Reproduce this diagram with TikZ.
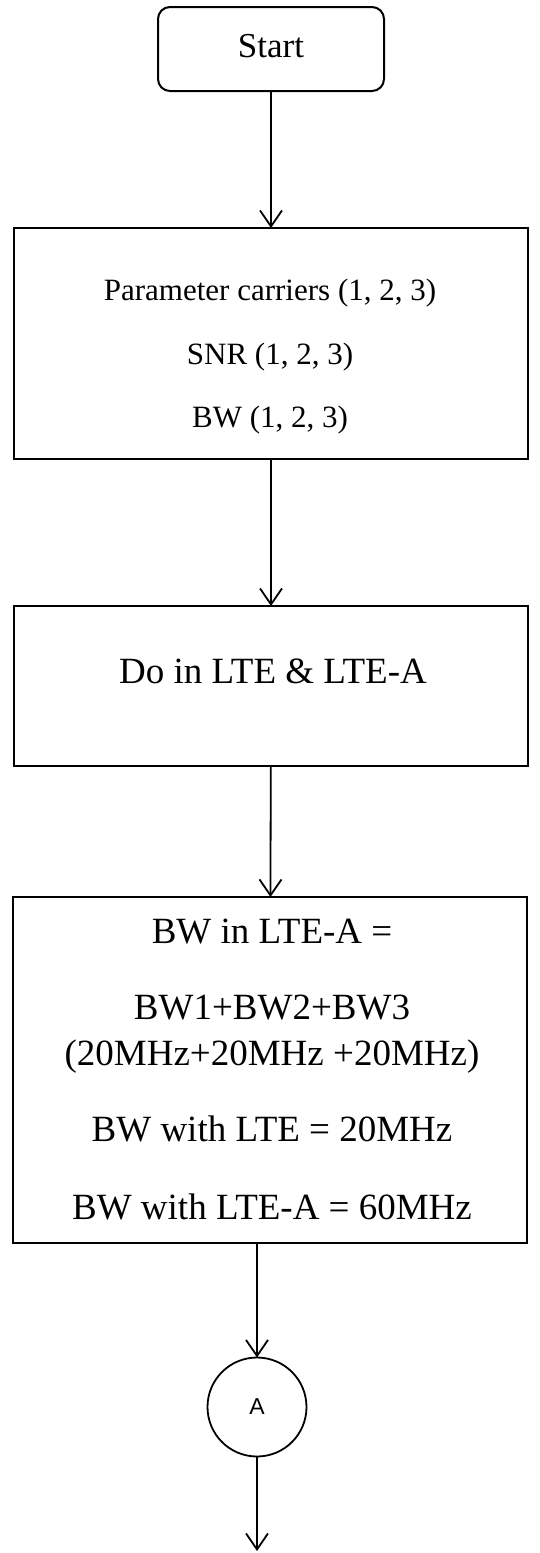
\documentclass[tikz,border=0pt]{standalone}
\usepackage{fontspec}
\setmainfont{Liberation Serif}
\newfontfamily\arialfont{Liberation Sans}
\usetikzlibrary{arrows.meta}
\begin{document}
\begin{tikzpicture}[x=1pt,y=-1pt,
  boxst/.style={draw, line width=2pt, inner sep=0pt, outer sep=0pt, minimum width=514pt},
  txt/.style={inner sep=0pt, outer sep=0pt, anchor=base, font=\fontsize{31}{37}\selectfont},
  bigtxt/.style={txt, font=\fontsize{37}{44}\selectfont},
  conn/.style={line width=1.8pt, -{Straight Barb[length=16pt,width=22pt]}}]
\useasboundingbox (0,0) rectangle (540,1553);
\fill[white] (0,0) rectangle (540,1553);

% Start
\node[draw, line width=2pt, rounded corners=12pt, inner sep=0pt, outer sep=0pt,
      minimum width=226pt, minimum height=84pt] (start) at (271,49) {};
\node[txt, font=\fontsize{35}{42}\selectfont] (startt) at (271,57) {Start};

% Parameters box
\node[boxst, minimum height=231pt] (p1) at (271,343.5) {};
\node[txt] (p1a) at (270,300) {Parameter carriers (1, 2, 3)};
\node[txt] (p1b) at (270,364) {SNR (1, 2, 3)};
\node[txt] (p1c) at (270,427) {BW (1, 2, 3)};

% Do in LTE box
\node[boxst, minimum height=160pt] (p2) at (271,686) {};
\node[bigtxt] (p2a) at (273,683) {Do in LTE \& LTE-A};

% BW box
\node[boxst, minimum height=346pt] (p3) at (270,1070) {};
\node[bigtxt] (p3a) at (272,943) {BW in LTE-A =};
\node[bigtxt] (p3b) at (272,1019) {BW1+BW2+BW3};
\node[bigtxt] (p3c) at (272,1065) {(20MHz+20MHz +20MHz)};
\node[bigtxt] (p3d) at (272,1141) {BW with LTE = 20MHz};
\node[bigtxt] (p3e) at (272,1219) {BW with LTE-A = 60MHz};

% connector A
\node[draw, circle, line width=1.8pt, minimum size=99pt, inner sep=0pt, outer sep=0pt,
      font=\arialfont\fontsize{23}{28}\selectfont] (conA) at (257,1407) {A};
\coordinate (endpt) at (257,1551);

% connectors
\draw[conn] (start) -- (p1);
\draw[conn] (p1) -- (p2);
\draw[conn] (p2) -- (p3);
\draw[conn] (p3.south -| conA.north) -- (conA.north);
\draw[conn] (conA.south) -- (endpt);
\end{tikzpicture}
\end{document}
